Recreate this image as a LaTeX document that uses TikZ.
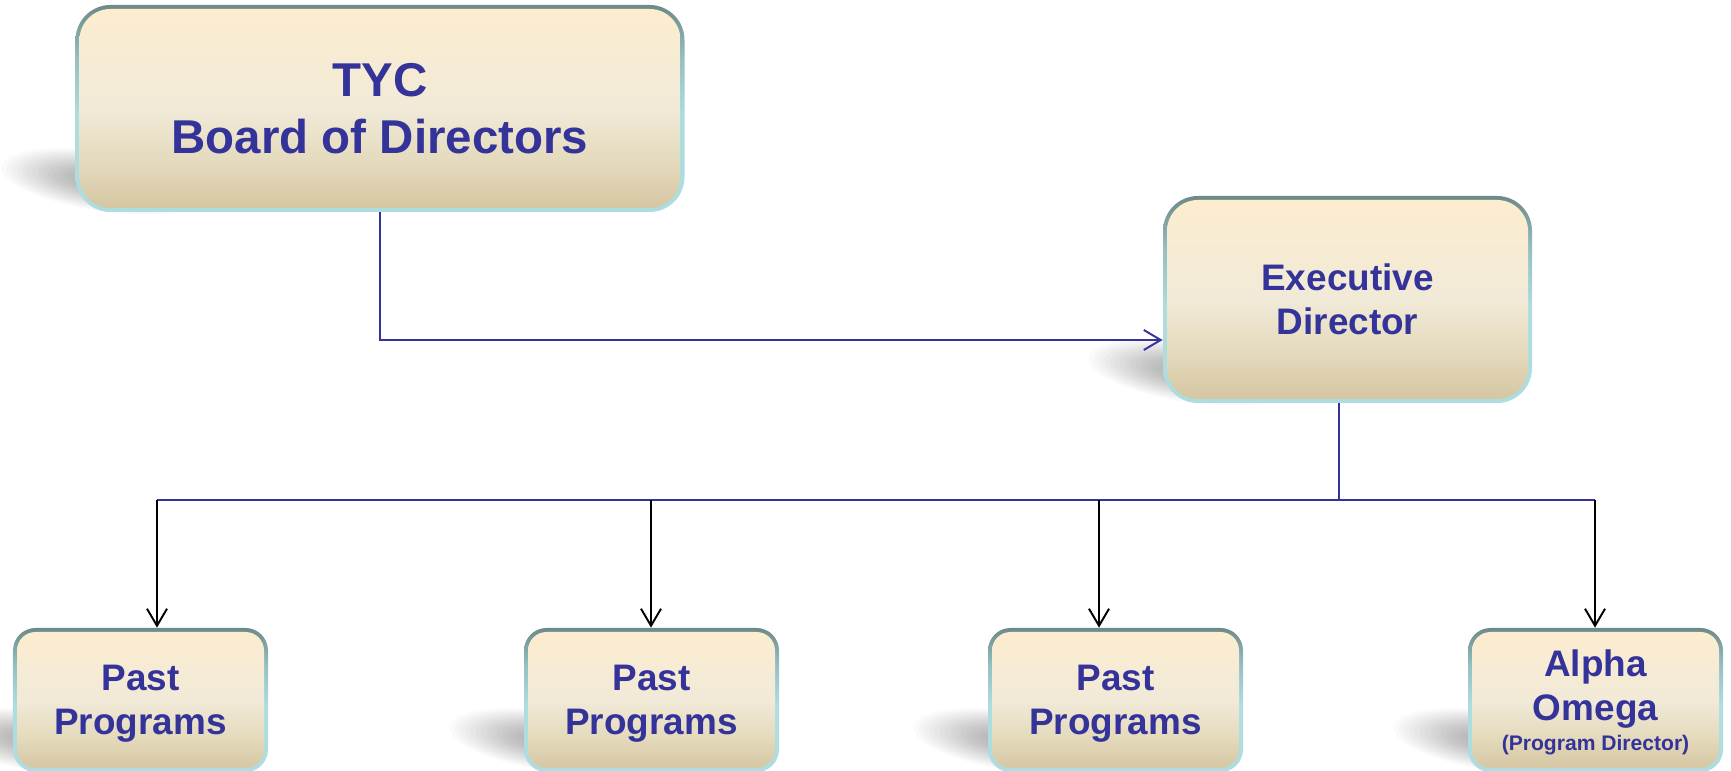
\documentclass[tikz,border=0pt]{standalone}
\usepackage{fontspec}
\setmainfont{Liberation Sans}
\usetikzlibrary{arrows.meta, backgrounds}
\definecolor{tycblue}{RGB}{51, 51, 153}
\definecolor{filltop}{RGB}{253, 237, 207}
\definecolor{fillpale}{RGB}{241, 234, 216}
\definecolor{fillmid}{RGB}{229, 219, 190}
\definecolor{fillbot}{RGB}{212, 197, 160}
\definecolor{edgetop}{RGB}{109, 138, 137}
\definecolor{edgemid}{RGB}{150, 192, 194}
\definecolor{edgelow}{RGB}{173, 221, 224}
\pgfdeclareverticalshading{boxfill}{100bp}{color(0bp)=(fillbot); color(25bp)=(fillbot); color(38bp)=(fillmid); color(50bp)=(fillpale); color(75bp)=(filltop); color(100bp)=(filltop)}
\pgfdeclareverticalshading{boxedge}{100bp}{color(0bp)=(edgelow); color(48bp)=(edgelow); color(62bp)=(edgemid); color(75bp)=(edgetop); color(100bp)=(edgetop)}

\begin{document}
\begin{tikzpicture}[
    orgbox/.style={rounded corners=#1, shade, shading=boxedge, inner sep=0pt,
        text=tycblue, align=center, font=\bfseries\fontsize{21}{25}\selectfont,
        path picture={\shade[shading=boxfill, rounded corners=#1-0.08cm]
            ([shift={(0.08cm,0.08cm)}]path picture bounding box.south west) rectangle
            ([shift={(-0.08cm,-0.08cm)}]path picture bounding box.north east);}},
    blueline/.style={tycblue, line width=1.1pt},
    bluearr/.style={blueline, -{Straight Barb[length=0.34cm, width=0.4cm]}},
    blackarr/.style={black, line width=1.1pt, -{Straight Barb[length=0.34cm, width=0.4cm]}}]
        \useasboundingbox (0,0) rectangle (34.62,15.42);

        % 董事会 (Board)
        \node[orgbox=0.7cm, minimum width=12.18cm, minimum height=4.14cm, text depth=-6pt,
            font=\bfseries\fontsize{27}{32.4}\selectfont] (board) at (7.6,13.25) {TYC\\Board of Directors};

        % 执行董事 (Executive Director)
        \node[orgbox=0.7cm, minimum width=7.38cm, minimum height=4.14cm, text depth=-9pt] (exec) at (26.95,9.43) {Executive\\Director};

        % 项目 (Programs)
        \node[orgbox=0.45cm, minimum width=5.1cm, minimum height=2.88cm, text depth=-7pt] (p1) at (2.81,1.42) {Past\\Programs};
        \node[orgbox=0.45cm, minimum width=5.1cm, minimum height=2.88cm, text depth=-7pt] (p2) at (13.03,1.42) {Past\\Programs};
        \node[orgbox=0.45cm, minimum width=5.1cm, minimum height=2.88cm, text depth=-7pt] (p3) at (22.31,1.42) {Past\\Programs};
        \node[orgbox=0.45cm, minimum width=5.1cm, minimum height=2.88cm, text depth=-7pt] (ao) at (31.91,1.42)
            {Alpha\\Omega\\[-8pt]{\fontsize{12}{14}\selectfont (Program Director)}};

        % 连线 (Connectors)
        \coordinate (bend) at (7.6,8.62);
        \draw[bluearr] (board.south) -- (bend) -- (bend -| exec.west);
        \coordinate (b1) at (3.14,5.42);
        \coordinate (b2) at (13.02,5.42);
        \coordinate (b3) at (21.98,5.42);
        \coordinate (b4) at (31.90,5.42);
        \coordinate (edrop) at ([xshift=-0.17cm]exec.south);
        \draw[blueline] (edrop) -- (edrop |- b1);
        \draw[blueline] (b1) -- (b4);
        \draw[blackarr] (b1) -- (b1 |- p1.north);
        \draw[blackarr] (b2) -- (b2 |- p2.north);
        \draw[blackarr] (b3) -- (b3 |- p3.north);
        \draw[blackarr] (b4) -- (b4 |- ao.north);

        % 阴影 (Shadows)
        \begin{scope}[on background layer]
            \fill[white] (0,0) rectangle (34.62,15.42);
            \foreach \b in {board, exec, p1, p2, p3, ao} {
                \coordinate (s) at ([shift={(0.6,0.62)}]\b.south west);
                \foreach \k in {1,...,20}
                    \fill[black, opacity=0.018, rotate around={-8:(s)}] (s) ellipse ({0.105*\k} and {0.03*\k});
            }
        \end{scope}
    \end{tikzpicture}
\end{document}
